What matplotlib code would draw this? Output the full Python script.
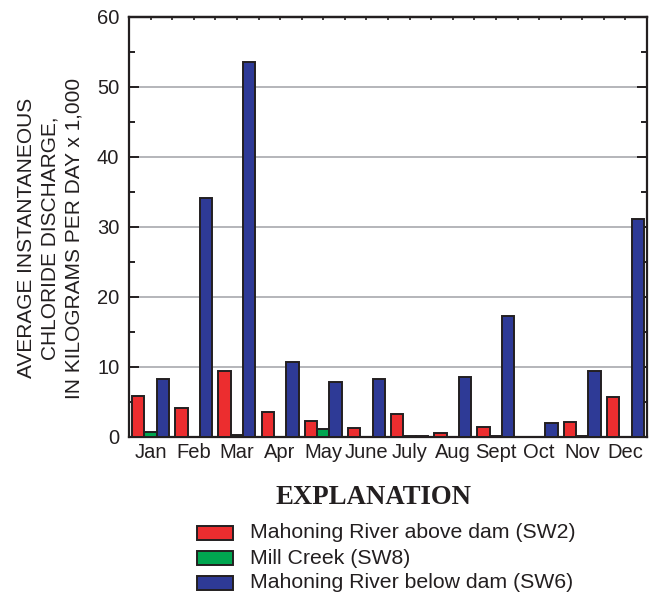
import matplotlib
matplotlib.use("Agg")
import matplotlib.pyplot as plt
import numpy as np
from matplotlib.patches import Rectangle

months = ["Jan", "Feb", "Mar", "Apr", "May", "June", "July", "Aug", "Sept", "Oct", "Nov", "Dec"]
above_dam = [5.8, 4.2, 9.5, 3.6, 2.3, 1.3, 3.3, 0.6, 1.5, 0.0, 2.1, 5.7]
mill_creek = [0.7, 0.0, 0.3, 0.0, 1.2, 0.0, 0.1, 0.05, 0.1, 0.0, 0.1, 0.0]
below_dam = [8.3, 34.1, 53.6, 10.7, 7.8, 8.3, 0.1, 8.6, 17.3, 2.0, 9.4, 31.2]
series_names = ["Mahoning River above dam (SW2)", "Mill Creek (SW8)", "Mahoning River below dam (SW6)"]
colors = ["#EC2D2F", "#00A650", "#2E3A96"]
edge = "#231F20"

W, H = 649, 596
fig = plt.figure(figsize=(W / 100, H / 100), dpi=100)
ax = fig.add_axes([129 / W, (H - 437) / H, (647 - 129) / W, (437 - 17) / H])
plt.rcParams['font.family'] = ['Liberation Sans', 'DejaVu Sans']

x = np.arange(len(months))
bw = 0.285
for i, (vals, c) in enumerate(zip([above_dam, mill_creek, below_dam], colors)):
    ax.bar(x + (i - 1) * bw, vals, width=bw, color=c, edgecolor=edge, linewidth=1.4, zorder=3)

ax.set_xlim(-0.5, 11.5)
ax.set_ylim(0, 60)
ax.set_yticks(np.arange(0, 61, 10))
ax.set_yticks(np.arange(5, 60, 10), minor=True)
ax.set_yticklabels([str(v) for v in range(0, 61, 10)], fontsize=14.5, family='Liberation Sans', color=edge)
ax.set_xticks(x)
ax.set_xticklabels(months, fontsize=14.5, family='Liberation Sans', color=edge)
ax.tick_params(axis='x', length=0, pad=4)
ax.tick_params(axis='y', which='major', direction='in', length=7, width=1.4, left=True, right=True, pad=7, color=edge)
ax.tick_params(axis='y', which='minor', direction='in', length=4, width=1.4, left=True, right=True, color=edge)
for yv in range(10, 60, 10):
    ax.axhline(yv, color="#B4B6BA", linewidth=1.4, zorder=1)
for s in ax.spines.values():
    s.set_linewidth(1.6)
    s.set_color(edge)

top = ax.secondary_xaxis('top')
top.set_xticks(np.arange(-0.5, 11.6, 0.5))
top.tick_params(direction='in', length=2.5, width=1.2, labeltop=False, color=edge)
top.spines['top'].set_linewidth(1.6)

fig.text(50 / W, (H - 238) / H,
         "AVERAGE INSTANTANEOUS\nCHLORIDE DISCHARGE,\nIN KILOGRAMS PER DAY x 1,000",
         rotation=90, ha='center', va='center', fontsize=15, family='Liberation Sans',
         linespacing=1.3, color=edge, multialignment='center')

fig.text(374 / W, (H - 497) / H, "EXPLANATION", ha='center', va='center',
         fontsize=19.3, fontweight='bold', family='Liberation Serif', color=edge)

rows_y = [533, 558, 583]
for name, c, yc in zip(series_names, colors, rows_y):
    fig.add_artist(Rectangle((197 / W, (H - yc - 7) / H), 36 / W, 14 / H,
                             transform=fig.transFigure, facecolor=c, edgecolor=edge, linewidth=1.4))
    fig.text(250 / W, (H - yc) / H, name, ha='left', va='center', fontsize=15.3,
             family='Liberation Sans', color=edge)

fig.savefig("out.png", dpi=100)
